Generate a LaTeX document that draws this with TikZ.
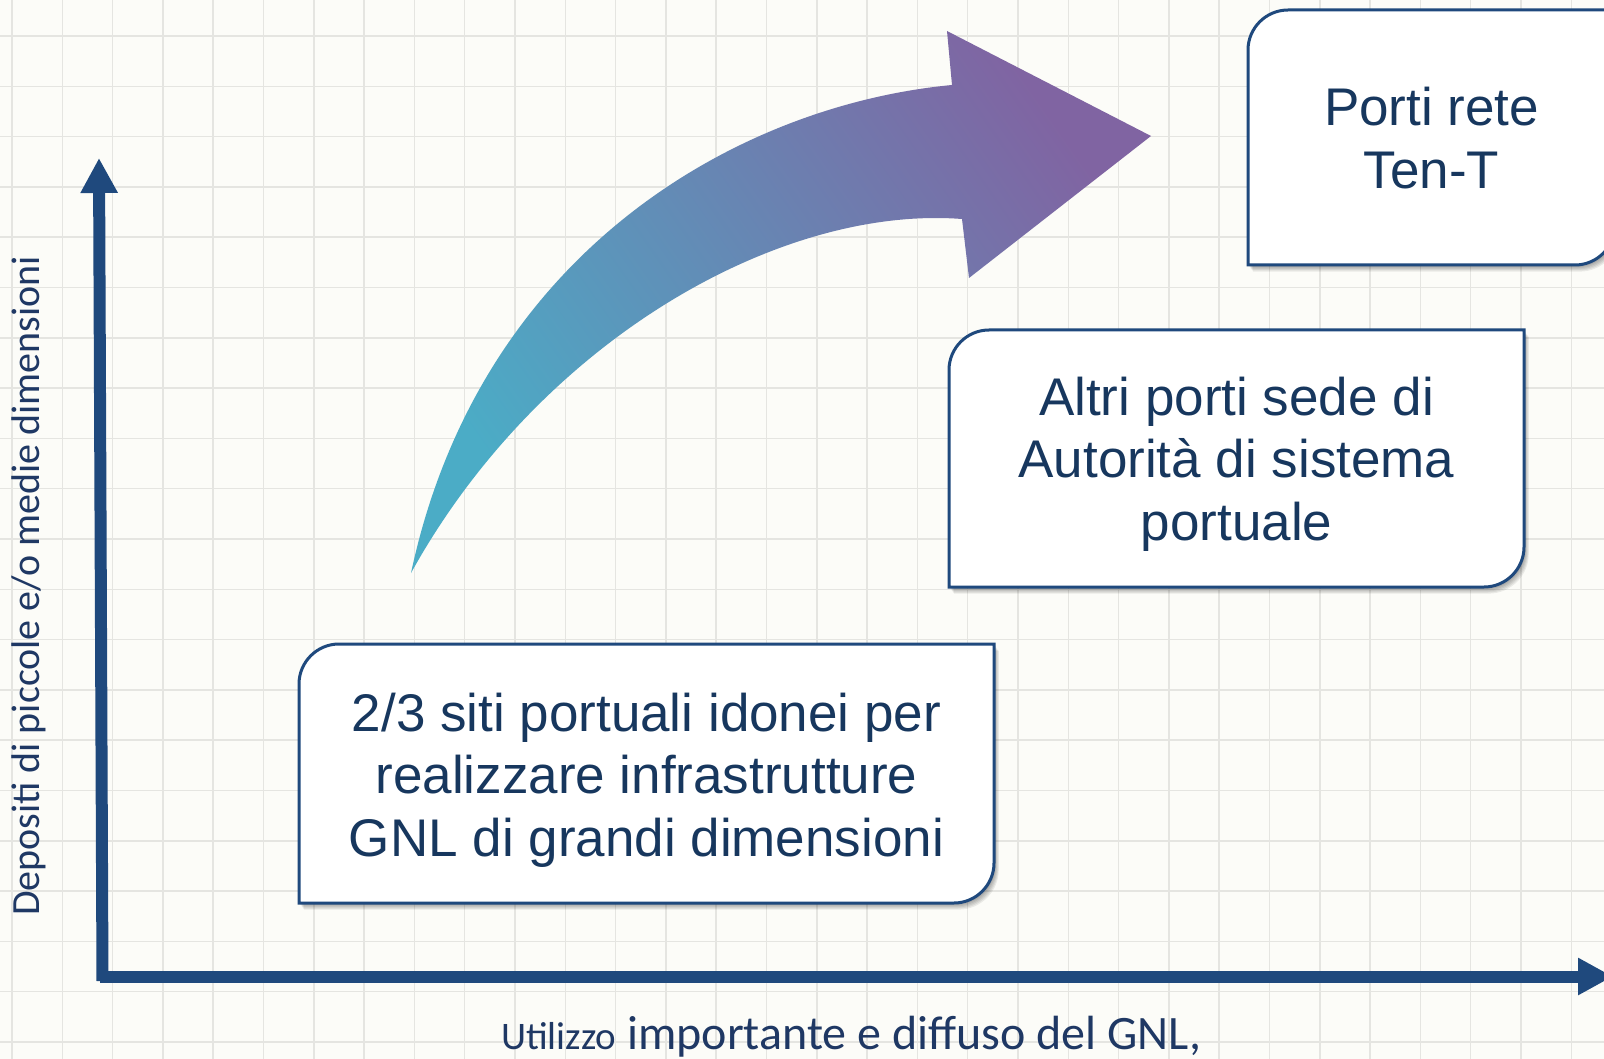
\documentclass[tikz,border=0pt]{standalone}
\usepackage{fontspec}
\setmainfont{Liberation Sans}
\newfontfamily\calibri{Carlito}
\usetikzlibrary{arrows.meta}

\definecolor{paper}{HTML}{FCFCF8}
\definecolor{gridgray}{HTML}{E5E5E1}
\definecolor{axisblue}{HTML}{1F497D}
\definecolor{inkblue}{HTML}{17375E}
\definecolor{labelblue}{HTML}{1F3864}
\definecolor{arrowteal}{HTML}{4BACC6}
\definecolor{arrowpurple}{HTML}{8064A2}

\tikzset{
  gridline/.style={draw=gridgray, line width=1.5pt},
  axisline/.style={draw=axisblue, line width=12pt, -{Triangle[width=35pt,length=35pt]}},
  boxtext/.style={inner sep=0pt, align=center, text=inkblue,
    font=\fontsize{53}{62.5}\selectfont},
  boxframe/.style={fill=white, draw=axisblue, line width=3pt},
  boxshadow/.style={fill=black, opacity=0.07},
}

% frame with rounded top-left and bottom-right corners and a soft shadow;
% arguments: left, top, right, bottom
\newcommand\diagframe[4]{%
  \foreach \s in {1,...,6} {%
    \fill[boxshadow, xshift=0.8*\s pt, yshift=-1.1*\s pt]
      ({#1},{#4}) -- ({#1},{#2+40})
      .. controls ({#1},{#2+18}) and ({#1+18},{#2}) .. ({#1+40},{#2})
      -- ({#3},{#2}) -- ({#3},{#4-40})
      .. controls ({#3},{#4-18}) and ({#3-18},{#4}) .. ({#3-40},{#4})
      -- cycle;}
  \path[boxframe]
      ({#1},{#4}) -- ({#1},{#2+40})
      .. controls ({#1},{#2+18}) and ({#1+18},{#2}) .. ({#1+40},{#2})
      -- ({#3},{#2}) -- ({#3},{#4-40})
      .. controls ({#3},{#4-18}) and ({#3-18},{#4}) .. ({#3-40},{#4})
      -- cycle;}

\begin{document}
\begin{tikzpicture}[x=1pt,y=-1pt]
\useasboundingbox (0,0) rectangle (1604,1059);

% squared paper
\fill[paper] (0,0) rectangle (1604,1059);
\foreach \k in {0,...,31} \draw[gridline] ({12+50.3*\k},0) -- ({12+50.3*\k},1059);
\foreach \k in {0,...,20} \draw[gridline] (0,{36+50.3*\k}) -- (1604,{36+50.3*\k});

% axes
\coordinate (origin) at (102.5,981);
\coordinate (ytip) at (99,158);
\coordinate (xstart) at (100,976.5);
\coordinate (xtip) at (1613,976.5);
\draw[axisline] (origin) -- (ytip);
\draw[axisline] (xstart) -- (xtip);

% curved growth arrow
\shade[top color=arrowpurple, bottom color=arrowteal, shading angle=-55]
  (411,573) .. controls (480,250) and (740,105) .. (952,85)
  -- (947,31) -- (1151,136) -- (969,278) -- (962,219)
  .. controls (780,205) and (540,340) .. (411,573) -- cycle;

% boxes
\diagframe{1248}{10}{1615}{265}
\node[boxtext] (tent) at (1431.5,138) {Porti rete\\Ten-T};
\diagframe{949}{330}{1524}{587}
\node[boxtext] (adsp) at (1236.5,464) {Altri porti sede di\\Autorità di sistema\\portuale};
\diagframe{299}{644}{994}{903}
\node[boxtext] (gnl) at (646.5,780) {2/3 siti portuali idonei per\\realizzare infrastrutture\\GNL di grandi dimensioni};

% axis labels
\node[rotate=90, text=labelblue, inner sep=0pt,
  font=\calibri\fontsize{40}{48}\selectfont] (ylabel) at (29,586)
  {Depositi di piccole e/o medie dimensioni};
\node[anchor=base west, text=labelblue, inner sep=0pt,
  font=\calibri\fontsize{48}{56}\selectfont] (xlabel) at (501,1049)
  {{\fontsize{39}{46}\selectfont Utilizzo} importante e diffuso del GNL,};
\end{tikzpicture}
\end{document}
